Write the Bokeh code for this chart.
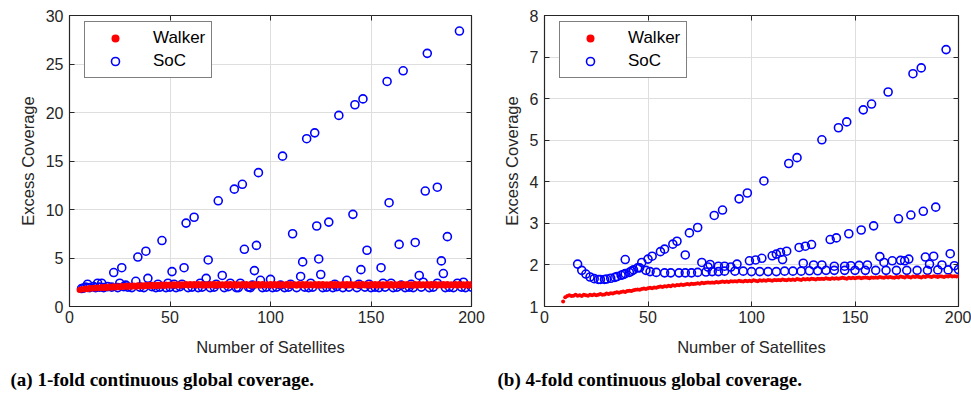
from bokeh.plotting import figure
from bokeh.models import LinearAxis, FixedTicker, Legend, LegendItem, Range1d
from bokeh.layouts import row
from bokeh.embed import file_html
from bokeh.resources import INLINE

# ---------------- data: panel (a) 1-fold ----------------
walker_a_x = list(range(5, 201))
walker_a_y = [
    1.70, 1.78, 1.74, 1.85, 1.79, 1.90, 1.82, 1.94, 1.85, 1.97,
    1.87, 2.00, 1.89, 2.03, 1.92, 2.05, 1.94, 2.08, 1.96, 2.10,
    1.98, 2.12, 2.00, 2.14, 2.01, 2.16, 2.03, 2.17, 2.04, 2.19,
    2.05, 2.20, 2.07, 2.21, 2.08, 2.23, 2.09, 2.24, 2.10, 2.25,
    2.11, 2.26, 2.12, 2.27, 2.13, 2.28, 2.14, 2.29, 2.14, 2.30,
    2.15, 2.30, 2.16, 2.31, 2.16, 2.31, 2.17, 2.32, 2.16, 2.31,
    2.17, 2.32, 2.15, 2.30, 2.17, 2.33, 2.16, 2.31, 2.15, 2.32,
    2.17, 2.30, 2.16, 2.33, 2.14, 2.31, 2.17, 2.32, 2.15, 2.30,
    2.16, 2.33, 2.15, 2.31, 2.17, 2.30, 2.14, 2.32, 2.16, 2.31,
    2.15, 2.33, 2.17, 2.30, 2.16, 2.32, 2.14, 2.31, 2.17, 2.33,
    2.15, 2.30, 2.16, 2.32, 2.15, 2.31, 2.17, 2.30, 2.14, 2.32,
    2.16, 2.33, 2.15, 2.31, 2.17, 2.30, 2.16, 2.32, 2.15, 2.31,
    2.14, 2.33, 2.16, 2.30, 2.17, 2.32, 2.15, 2.31, 2.16, 2.30,
    2.17, 2.32, 2.14, 2.31, 2.16, 2.33, 2.15, 2.30, 2.17, 2.32,
    2.15, 2.31, 2.16, 2.30, 2.14, 2.32, 2.17, 2.31, 2.15, 2.33,
    2.16, 2.30, 2.17, 2.32, 2.15, 2.31, 2.14, 2.30, 2.16, 2.32,
    2.15, 2.33, 2.17, 2.31, 2.16, 2.30, 2.15, 2.32, 2.14, 2.31,
    2.16, 2.30, 2.17, 2.32, 2.15, 2.31, 2.16, 2.33, 2.14, 2.30,
    2.17, 2.32, 2.15, 2.31, 2.16, 2.30, 2.17, 2.32, 2.15, 2.31,
    2.16, 2.30, 2.14, 2.32, 2.15, 2.31,
]

soc_a_x = [
    22, 26, 34, 38, 46, 58, 62, 74, 82, 86, 94, 106, 118, 122, 134, 142, 146, 158, 166, 178, 194,
    51, 57, 69, 87, 93, 111, 123, 129, 141, 159, 177, 183, 148, 164, 172, 188, 116, 124, 145, 155, 185, 92,
    9, 14, 16, 25, 28, 33, 39, 44, 49, 52, 56, 65, 68, 73, 76, 80, 85, 91, 95, 100, 105, 110, 115, 120,
    125, 132, 138, 144, 149, 156, 160, 165, 170, 174, 176, 183, 186, 193, 196,
    6, 7, 8, 10, 12, 13, 15, 17, 19, 21, 24, 27, 29, 31, 35, 37, 41, 43, 45, 48, 50, 53, 55, 59, 61,
    64, 66, 70, 72, 77, 79, 83, 84, 89, 90, 96, 98, 101, 103, 107, 109, 113, 117, 119, 121, 126, 128,
    131, 133, 136, 139, 143, 147, 150, 152, 154, 157, 161, 163, 167, 169, 171, 175, 179, 181, 187, 189,
    191, 195, 197, 200,
]
soc_a_y = [
    3.5, 4.0, 5.1, 5.7, 6.8, 8.6, 9.2, 10.9, 12.1, 12.6, 13.8, 15.5, 17.3, 17.9, 19.7, 20.8, 21.4, 23.2, 24.3, 26.1, 28.4,
    3.6, 4.0, 4.8, 5.9, 6.3, 7.5, 8.3, 8.7, 9.5, 10.7, 11.9, 12.3, 5.8, 6.4, 6.6, 7.2, 4.6, 4.9, 3.8, 4.0, 4.7, 3.7,
    2.3, 2.4, 2.4, 2.4, 2.2, 2.6, 2.9, 2.3, 2.4, 2.3, 2.3, 2.4, 2.9, 2.3, 3.2, 2.4, 2.4, 2.2, 2.7, 2.8, 2.2, 2.3, 3.1, 2.4,
    3.3, 2.3, 2.7, 2.3, 2.3, 2.4, 2.4, 2.2, 2.3, 3.2, 2.5, 2.4, 3.4, 2.4, 2.5,
    1.85, 1.9, 2.0, 1.95, 2.05, 1.95, 2.0, 1.95, 2.05, 2.0, 1.95, 2.05, 2.0, 1.95, 2.0, 1.95, 2.05, 1.95, 2.0, 1.95, 2.0, 1.95, 2.05, 1.95, 2.0,
    1.95, 2.0, 1.95, 2.0, 1.95, 2.05, 1.95, 1.95, 2.0, 1.95, 1.95, 2.0, 1.95, 2.0, 1.95, 2.0, 1.95, 2.0, 1.95, 2.0, 1.95, 2.0,
    1.95, 2.05, 1.95, 2.0, 1.95, 2.0, 1.95, 2.0, 1.95, 2.0, 1.95, 2.0, 1.95, 2.0, 1.95, 2.0, 1.95, 2.0, 1.95, 2.0,
    1.95, 2.0, 1.95, 2.0,
]

# ---------------- data: panel (b) 4-fold ----------------
walker_b_x = list(range(9, 201))
walker_b_y = [
    1.12,
    1.22, 1.25, 1.27, 1.25, 1.26, 1.28, 1.26, 1.27, 1.25, 1.28,
    1.27, 1.26, 1.28, 1.27, 1.29, 1.27, 1.28, 1.30, 1.28, 1.29,
    1.31, 1.30, 1.32, 1.31, 1.33, 1.34, 1.33, 1.35, 1.36, 1.35,
    1.37, 1.38, 1.37, 1.39, 1.40, 1.41, 1.40, 1.42, 1.43, 1.42,
    1.44, 1.45, 1.44, 1.46, 1.45, 1.47, 1.48, 1.47, 1.49, 1.48,
    1.50, 1.49, 1.51, 1.50, 1.52, 1.51, 1.53, 1.52, 1.53, 1.54,
    1.53, 1.55, 1.54, 1.55, 1.56, 1.55, 1.57, 1.56, 1.57, 1.58,
    1.57, 1.58, 1.57, 1.59, 1.58, 1.59, 1.60, 1.59, 1.60, 1.59,
    1.61, 1.60, 1.61, 1.60, 1.62, 1.61, 1.60, 1.62, 1.61, 1.62,
    1.61, 1.63, 1.62, 1.61, 1.63, 1.62, 1.63, 1.62, 1.64, 1.63,
    1.62, 1.64, 1.63, 1.64, 1.63, 1.65, 1.64, 1.63, 1.65, 1.64,
    1.65, 1.64, 1.66, 1.65, 1.64, 1.66, 1.65, 1.66, 1.65, 1.67,
    1.66, 1.65, 1.67, 1.66, 1.67, 1.66, 1.68, 1.67, 1.66, 1.68,
    1.67, 1.68, 1.67, 1.68, 1.69, 1.68, 1.67, 1.69, 1.68, 1.69,
    1.68, 1.69, 1.70, 1.68, 1.69, 1.70, 1.69, 1.68, 1.70, 1.69,
    1.70, 1.69, 1.71, 1.70, 1.69, 1.71, 1.70, 1.71, 1.70, 1.69,
    1.71, 1.70, 1.72, 1.71, 1.70, 1.72, 1.71, 1.70, 1.72, 1.71,
    1.72, 1.71, 1.70, 1.72, 1.71, 1.73, 1.72, 1.71, 1.73, 1.72,
    1.71, 1.73, 1.72, 1.71, 1.73, 1.72, 1.74, 1.72, 1.73, 1.72, 1.73,
]

soc_b_x = [
    16, 18, 20, 22, 24, 26, 27, 29, 30, 32, 34, 35, 37, 38, 39, 41, 42, 43, 45, 39,
    47, 50, 52, 56, 58, 62, 64, 70, 74, 82, 86, 94, 98, 106, 118, 122, 134, 142, 146, 154, 158, 166, 178, 182, 194,
    46, 49, 51, 54, 58, 61, 65, 68, 71, 74, 78, 81, 84, 87, 92, 96, 100, 104, 108, 112, 116, 120, 124, 128,
    132, 136, 140, 145, 150, 155, 160, 165, 170, 175, 180, 185, 190, 195, 200,
    68, 76, 79, 80, 84, 87, 90, 93, 99, 102, 105, 110, 112, 114, 115, 117, 123, 126, 129, 125, 130, 134,
    138, 140, 141, 145, 147, 148, 152, 153, 156, 159, 162, 164, 168, 171, 172, 174, 176, 177, 183, 184,
    186, 188, 189, 192, 196, 198,
]
soc_b_y = [
    2.02, 1.87, 1.78, 1.71, 1.67, 1.65, 1.65, 1.65, 1.66, 1.68, 1.70, 1.72, 1.75, 1.77, 1.79, 1.82, 1.85, 1.88, 1.93, 2.13,
    2.06, 2.14, 2.21, 2.32, 2.38, 2.50, 2.57, 2.77, 2.90, 3.19, 3.32, 3.59, 3.73, 4.02, 4.44, 4.58, 5.01, 5.30, 5.44, 5.73, 5.87, 6.16, 6.60, 6.74, 7.18,
    1.93, 1.87, 1.84, 1.82, 1.81, 1.81, 1.81, 1.81, 1.81, 1.82, 1.83, 1.84, 1.84, 1.85, 1.85, 1.85, 1.84, 1.84, 1.84, 1.84, 1.85, 1.85, 1.85, 1.86,
    1.86, 1.87, 1.87, 1.87, 1.87, 1.87, 1.87, 1.87, 1.87, 1.87, 1.87, 1.87, 1.88, 1.88, 1.89,
    2.24, 2.06, 1.95, 2.01, 1.97, 1.97, 1.95, 2.02, 2.10, 2.12, 2.16, 2.22, 2.26, 2.30, 2.13, 2.33, 2.42, 2.45, 2.49, 2.04, 2.00, 2.00,
    2.61, 1.97, 2.65, 1.97, 2.75, 1.98, 1.99, 2.84, 2.00, 2.94, 2.20, 2.06, 2.10, 3.11, 2.11, 2.10, 2.14, 3.20, 3.29, 2.19,
    2.02, 2.21, 3.39, 2.00, 2.27, 1.98,
]

x_ticks = [0, 50, 100, 150, 200]
y_ticks_a = [0, 5, 10, 15, 20, 25, 30]
y_ticks_b = [1, 2, 3, 4, 5, 6, 7, 8]
captions = ["(a) 1-fold continuous global coverage.", "(b) 4-fold continuous global coverage."]
x_label = "Number of Satellites"
y_label = "Excess Coverage"
series_names = ["Walker", "SoC"]

AX = "#262626"
FONT = "Liberation Sans"


def make(wx, wy, sx, sy, yr, yticks, caption, width, bl, br, bt, walker_size, cap_offset):
    p = figure(width=width, height=399, output_backend="svg", toolbar_location=None,
               x_range=Range1d(0, 200), y_range=Range1d(*yr),
               min_border_left=bl, min_border_right=br, min_border_top=bt, min_border_bottom=93,
               title=caption, title_location="below")
    p.background_fill_color = "white"
    p.border_fill_color = "white"
    p.outline_line_color = AX
    p.outline_line_width = 1.2
    p.title.text_font = "Liberation Serif"
    p.title.text_font_style = "bold"
    p.title.text_font_size = "19px"
    p.title.text_color = "black"
    p.title.align = "left"
    p.title.offset = cap_offset
    p.title.standoff = 17

    for g in (p.xgrid[0], p.ygrid[0]):
        g.grid_line_color = "#dedede"
        g.grid_line_width = 1
    p.xgrid[0].ticker = FixedTicker(ticks=x_ticks)
    p.ygrid[0].ticker = FixedTicker(ticks=yticks)

    def style(ax, ticks, labels=True):
        ax.ticker = FixedTicker(ticks=ticks)
        ax.axis_line_color = AX
        ax.major_tick_line_color = AX
        ax.major_tick_in = 5
        ax.major_tick_out = 0
        ax.minor_tick_line_color = None
        ax.major_label_text_font = FONT
        ax.major_label_text_color = AX
        if labels:
            ax.major_label_text_font_size = "16px"
        else:
            ax.major_label_text_font_size = "1px"
            ax.major_label_text_color = None
            ax.major_label_standoff = 0
            ax.axis_line_color = None

    xa = p.xaxis[0]
    style(xa, x_ticks)
    xa.major_label_standoff = 4
    xa.axis_label = x_label
    xa.axis_label_text_font = FONT
    xa.axis_label_text_font_size = "16.5px"
    xa.axis_label_text_font_style = "normal"
    xa.axis_label_text_color = AX
    xa.axis_label_standoff = 12

    ya = p.yaxis[0]
    style(ya, yticks)
    ya.major_label_standoff = 6
    ya.axis_label = y_label
    ya.axis_label_text_font = FONT
    ya.axis_label_text_font_size = "16.5px"
    ya.axis_label_text_font_style = "normal"
    ya.axis_label_text_color = AX
    ya.axis_label_standoff = 6

    top = LinearAxis()
    style(top, x_ticks, labels=False)
    p.add_layout(top, "above")
    right = LinearAxis()
    style(right, yticks, labels=False)
    p.add_layout(right, "right")

    r2 = p.scatter(sx, sy, marker="circle", size=8, fill_color=None,
                   line_color="#0000ff", line_width=1.6)
    r1 = p.scatter(wx, wy, marker="circle", size=walker_size, fill_color="#ff0000",
                   line_color="#ff0000", line_width=0)

    leg = Legend(items=[LegendItem(label=series_names[0], renderers=[r1]),
                        LegendItem(label=series_names[1], renderers=[r2])],
                 location=(15, 228))
    leg.padding = 6
    leg.spacing = 3
    leg.glyph_width = 48
    leg.glyph_height = 20
    leg.label_height = 20
    leg.label_standoff = 14
    leg.label_text_font = FONT
    leg.label_text_font_size = "17px"
    leg.label_text_color = "black"
    leg.border_line_color = "black"
    leg.border_line_width = 1.2
    leg.background_fill_color = "white"
    leg.background_fill_alpha = 1
    p.add_layout(leg, "center")
    return p


p1 = make(walker_a_x, walker_a_y, soc_a_x, soc_a_y, (0, 30), y_ticks_a, captions[0],
          490, 69, 19, 15, 6, -59)
p2 = make(walker_b_x, walker_b_y, soc_b_x, soc_b_y, (1, 8), y_ticks_b, captions[1],
          481, 54, 13, 14, 4, -47)

layout = row(p1, p2)
open("out.html", "w").write(file_html(layout, INLINE))
